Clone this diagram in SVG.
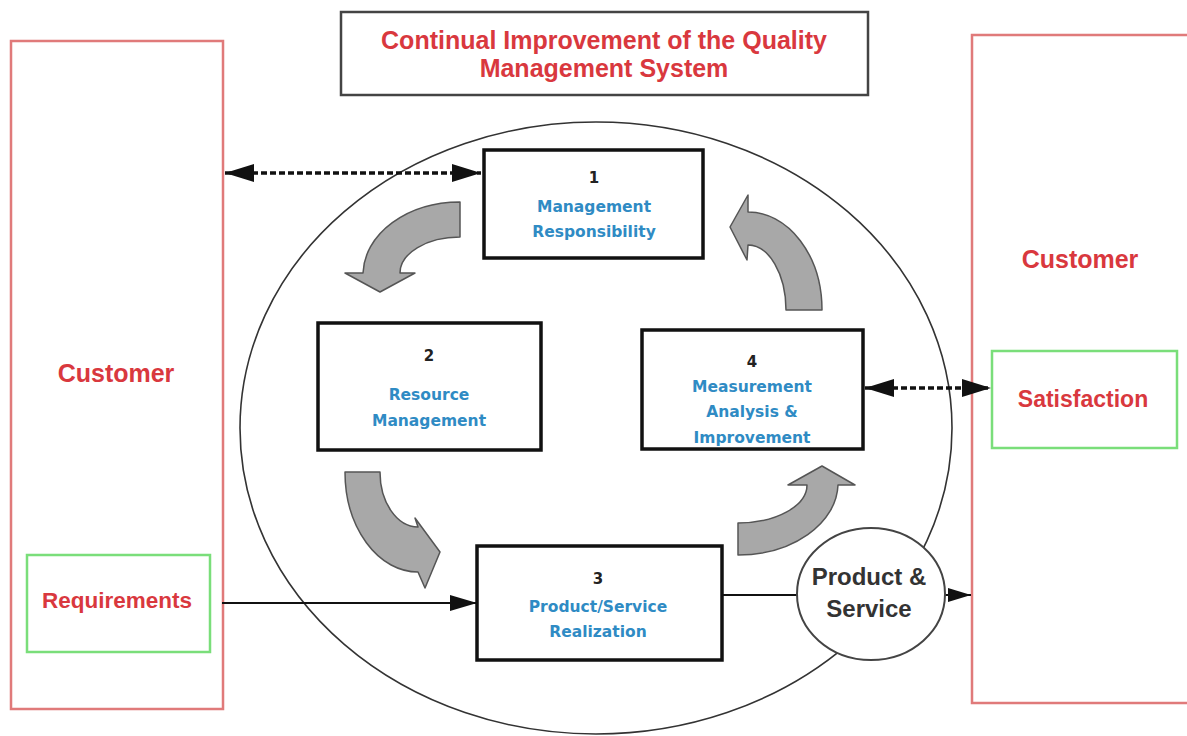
<svg xmlns="http://www.w3.org/2000/svg" width="1187" height="736" viewBox="0 0 1187 736">
<style>
.red{fill:#d9383e;font-family:"Liberation Sans",Arial,sans-serif;font-weight:bold;text-anchor:middle}
.blue{fill:#2f8bc4;font-family:"DejaVu Sans",sans-serif;font-weight:bold;font-size:15.5px;text-anchor:middle}
.num{fill:#222;font-family:"DejaVu Sans",sans-serif;font-weight:bold;font-size:15px;text-anchor:middle}
.box{fill:#fff;stroke:#111;stroke-width:3.5}
.cust{fill:#fff;stroke:#e07a7a;stroke-width:2.5}
.grn{fill:#fff;stroke:#7ade7a;stroke-width:2.5}
.cycle{fill:#a8a8a8;stroke:#555;stroke-width:1.5;stroke-linejoin:round}
.dash{stroke:#111;stroke-width:3.5;stroke-dasharray:6 3;fill:none}
.solid{stroke:#111;stroke-width:2;fill:none}
</style>
<defs>
<marker id="dh" markerUnits="userSpaceOnUse" markerWidth="30" markerHeight="18" refX="29" refY="9" orient="auto-start-reverse">
<path d="M0,0 L29,9 L0,18 z" fill="#111"/>
</marker>
<marker id="sh" markerUnits="userSpaceOnUse" markerWidth="28" markerHeight="16" refX="27" refY="8" orient="auto">
<path d="M0,0 L27,8 L0,16 z" fill="#111"/>
</marker>
<marker id="ph" markerUnits="userSpaceOnUse" markerWidth="24" markerHeight="14" refX="23" refY="7" orient="auto">
<path d="M0,0 L23,7 L0,14 z" fill="#111"/>
</marker>
</defs>
<rect width="1187" height="736" fill="#fff"/>

<g id="title">
<rect x="341" y="12" width="527" height="83" fill="#fff" stroke="#444" stroke-width="2.5"/>
<text class="red" x="604" y="49" font-size="25">Continual Improvement of the Quality</text>
<text class="red" x="604" y="77" font-size="25">Management System</text>
</g>

<g id="customer-left">
<rect class="cust" x="11" y="41" width="212" height="668"/>
<text class="red" x="116" y="382" font-size="25">Customer</text>
</g>
<g id="requirements">
<rect class="grn" x="27" y="555" width="183" height="97"/>
<text class="red" x="117" y="608" font-size="22.5">Requirements</text>
</g>

<g id="customer-right">
<rect class="cust" x="972" y="35" width="225" height="668"/>
<text class="red" x="1080" y="268" font-size="25">Customer</text>
</g>
<g id="satisfaction">
<rect class="grn" x="992" y="351" width="185" height="97"/>
<text class="red" x="1083" y="407" font-size="23">Satisfaction</text>
</g>

<g id="qms-ellipse">
<ellipse cx="596" cy="428" rx="356" ry="306" fill="none" stroke="#333" stroke-width="1.6"/>
</g>

<g id="cycle-arrows">
<path class="cycle" d="M460,202 A97,73 0 0 0 363,273 L345,273 L380,292 L415,273 L400,273 A60,36 0 0 1 460,237 Z"/>
<path class="cycle" d="M345,472 A73,100 0 0 0 418,572 L425,588 L440,552 L415,518 L418,527 A38,55 0 0 1 380,472 Z"/>
<path class="cycle" d="M738,555 A100,72 0 0 0 838,485 L855,485 L822,466 L788,485 L807,485 A69,38 0 0 1 738,523 Z"/>
<path class="cycle" d="M822,310 A74,98 0 0 0 748,212 L748,195 L730,227 L747,260 L748,245 A38,65 0 0 1 786,310 Z"/>
</g>

<g id="connectors">
<line class="dash" x1="225" y1="173" x2="481" y2="173" marker-start="url(#dh)" marker-end="url(#dh)"/>
<line class="dash" x1="865" y1="388" x2="991" y2="388" marker-start="url(#dh)" marker-end="url(#dh)"/>
<line class="solid" x1="222" y1="603" x2="477" y2="603" marker-end="url(#sh)"/>
<line class="solid" x1="722" y1="595" x2="798" y2="595"/>
<line class="solid" x1="945" y1="595" x2="971" y2="595" marker-end="url(#ph)"/>
</g>

<g id="node1">
<rect class="box" x="484" y="150" width="219" height="108"/>
<text class="num" x="594" y="183">1</text>
<text class="blue" x="594" y="212">Management</text>
<text class="blue" x="594" y="237">Responsibility</text>
</g>
<g id="node2">
<rect class="box" x="318" y="323" width="223" height="127"/>
<text class="num" x="429" y="361">2</text>
<text class="blue" x="429" y="400">Resource</text>
<text class="blue" x="429" y="426">Management</text>
</g>
<g id="node3">
<rect class="box" x="477" y="546" width="245" height="114"/>
<text class="num" x="598" y="584">3</text>
<text class="blue" x="598" y="612">Product/Service</text>
<text class="blue" x="598" y="637">Realization</text>
</g>
<g id="node4">
<rect class="box" x="642" y="330" width="221" height="119"/>
<text class="num" x="752" y="367">4</text>
<text class="blue" x="752" y="392">Measurement</text>
<text class="blue" x="752" y="417">Analysis &amp;</text>
<text class="blue" x="752" y="443">Improvement</text>
</g>

<g id="product-service">
<ellipse cx="871" cy="594" rx="74" ry="66" fill="#fff" stroke="#444" stroke-width="2"/>
<text x="869" y="585" font-family="Liberation Sans, Arial, sans-serif" font-weight="bold" font-size="24" fill="#333" text-anchor="middle">Product &amp;</text>
<text x="869" y="617" font-family="Liberation Sans, Arial, sans-serif" font-weight="bold" font-size="24" fill="#333" text-anchor="middle">Service</text>
</g>
</svg>
